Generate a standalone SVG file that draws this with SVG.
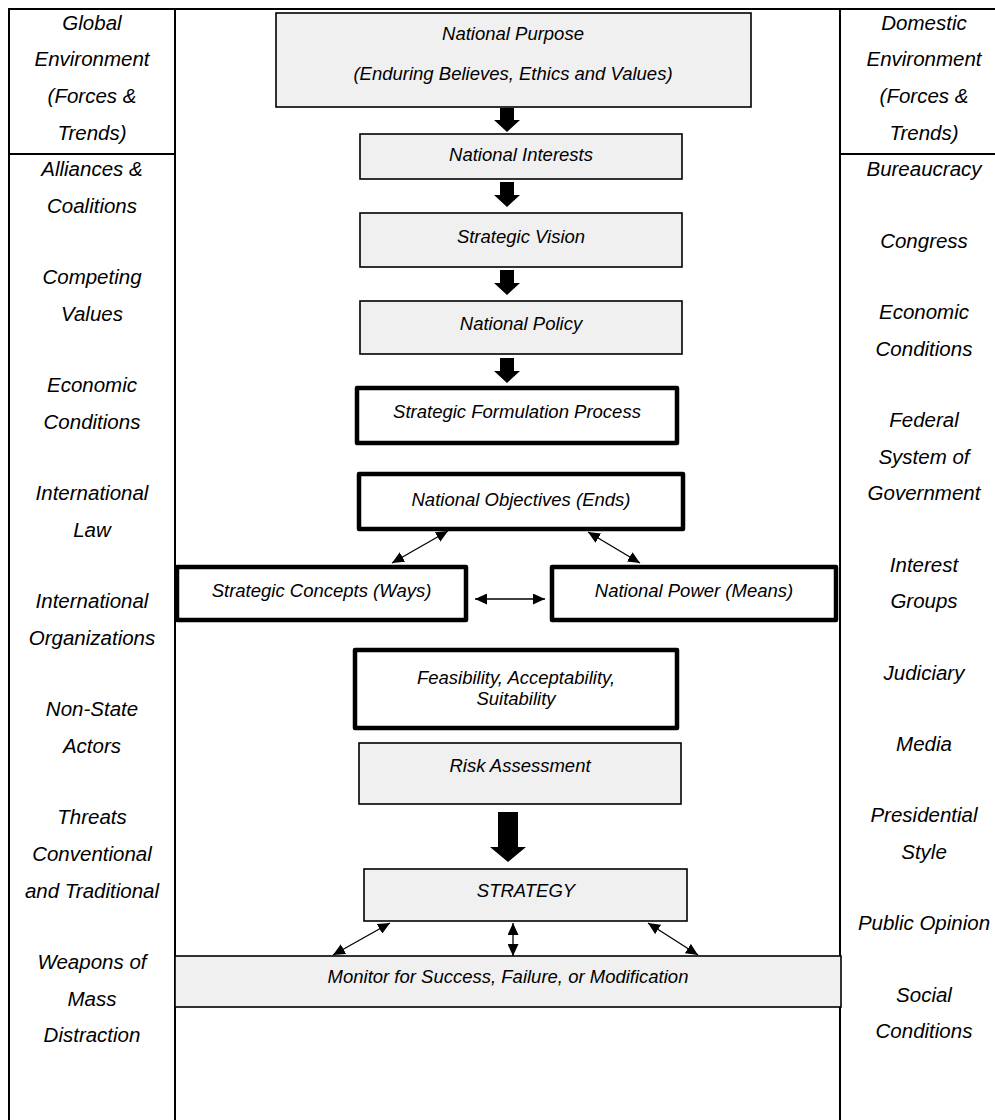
<svg xmlns="http://www.w3.org/2000/svg" width="995" height="1120" viewBox="0 0 995 1120">
<style>
.frame{stroke:#000;stroke-width:2;fill:none}
.gbox{fill:#f0f0f0;stroke:#000;stroke-width:1.6}
.tbox{fill:#fff;stroke:#000;stroke-width:4.5;stroke-linejoin:round}
.t{font-family:"Liberation Sans",Arial,sans-serif;font-style:italic;font-size:18.5px;fill:#000;text-anchor:middle}
.c{font-family:"Liberation Sans",Arial,sans-serif;font-style:italic;font-size:20.5px;fill:#000;text-anchor:middle}
.thin{stroke:#000;stroke-width:1.3;fill:none;marker-start:url(#ah);marker-end:url(#ah)}
.block{fill:#000}
</style>
<defs>
<marker id="ah" viewBox="0 0 12 11" refX="12" refY="5.5" markerWidth="12" markerHeight="11" markerUnits="userSpaceOnUse" orient="auto-start-reverse">
<path d="M0,0 L12,5.5 L0,11 z" fill="#000"/>
</marker>
</defs>
<rect width="995" height="1120" fill="#fff"/>
<g id="frame">
<path class="frame" d="M9,1120 V9 H995 M175,9 V1120 M840,9 V1120 M9,154 H175 M840,154 H995"/>
</g>
<g id="left-column">
<text class="c" x="92" y="29.5">Global</text>
<text class="c" x="92" y="66.2">Environment</text>
<text class="c" x="92" y="102.9">(Forces &amp;</text>
<text class="c" x="92" y="139.6">Trends)</text>
<text class="c" x="92" y="176.3">Alliances &amp;</text>
<text class="c" x="92" y="213">Coalitions</text>
<text class="c" x="92" y="284.3">Competing</text>
<text class="c" x="92" y="321">Values</text>
<text class="c" x="92" y="392.3">Economic</text>
<text class="c" x="92" y="429">Conditions</text>
<text class="c" x="92" y="500.3">International</text>
<text class="c" x="92" y="537">Law</text>
<text class="c" x="92" y="608.3">International</text>
<text class="c" x="92" y="645">Organizations</text>
<text class="c" x="92" y="716.3">Non-State</text>
<text class="c" x="92" y="753">Actors</text>
<text class="c" x="92" y="824.3">Threats</text>
<text class="c" x="92" y="861">Conventional</text>
<text class="c" x="92" y="897.7">and Traditional</text>
<text class="c" x="92" y="969">Weapons of</text>
<text class="c" x="92" y="1005.7">Mass</text>
<text class="c" x="92" y="1042.4">Distraction</text>
</g>
<g id="right-column">
<text class="c" x="924" y="29.5">Domestic</text>
<text class="c" x="924" y="66.2">Environment</text>
<text class="c" x="924" y="102.9">(Forces &amp;</text>
<text class="c" x="924" y="139.6">Trends)</text>
<text class="c" x="924" y="176.3">Bureaucracy</text>
<text class="c" x="924" y="247.6">Congress</text>
<text class="c" x="924" y="318.9">Economic</text>
<text class="c" x="924" y="355.6">Conditions</text>
<text class="c" x="924" y="426.9">Federal</text>
<text class="c" x="924" y="463.6">System of</text>
<text class="c" x="924" y="500.3">Government</text>
<text class="c" x="924" y="571.6">Interest</text>
<text class="c" x="924" y="608.3">Groups</text>
<text class="c" x="924" y="679.6">Judiciary</text>
<text class="c" x="924" y="750.9">Media</text>
<text class="c" x="924" y="822.2">Presidential</text>
<text class="c" x="924" y="858.9">Style</text>
<text class="c" x="924" y="930.2">Public Opinion</text>
<text class="c" x="924" y="1001.5">Social</text>
<text class="c" x="924" y="1038.2">Conditions</text>
</g>
<g id="national-purpose">
<rect class="gbox" x="276" y="13" width="475" height="94"/>
<text class="t" x="513" y="39.6">National Purpose</text>
<text class="t" x="513" y="79.6">(Enduring Believes, Ethics and Values)</text>
</g>
<g id="national-interests">
<rect class="gbox" x="360" y="134" width="322" height="45"/>
<text class="t" x="521" y="161">National Interests</text>
</g>
<g id="strategic-vision">
<rect class="gbox" x="360" y="213" width="322" height="54"/>
<text class="t" x="521" y="243">Strategic Vision</text>
</g>
<g id="national-policy">
<rect class="gbox" x="360" y="301" width="322" height="53"/>
<text class="t" x="521" y="330">National Policy</text>
</g>
<g id="strategic-formulation">
<rect class="tbox" x="357" y="388" width="320" height="55"/>
<text class="t" x="517" y="418">Strategic Formulation Process</text>
</g>
<g id="national-objectives">
<rect class="tbox" x="359" y="474" width="324" height="55"/>
<text class="t" x="521" y="506">National Objectives (Ends)</text>
</g>
<g id="strategic-concepts">
<rect class="tbox" x="177" y="567" width="289" height="53"/>
<text class="t" x="321.5" y="597">Strategic Concepts (Ways)</text>
</g>
<g id="national-power">
<rect class="tbox" x="552" y="567" width="284" height="53"/>
<text class="t" x="694" y="597">National Power (Means)</text>
</g>
<g id="feasibility">
<rect class="tbox" x="355" y="650" width="322" height="78"/>
<text class="t" x="516" y="684">Feasibility, Acceptability,</text>
<text class="t" x="516" y="705">Suitability</text>
</g>
<g id="risk-assessment">
<rect class="gbox" x="359" y="743" width="322" height="61"/>
<text class="t" x="520" y="772">Risk Assessment</text>
</g>
<g id="strategy">
<rect class="gbox" x="364" y="869" width="323" height="52"/>
<text class="t" x="526" y="897">STRATEGY</text>
</g>
<g id="monitor">
<rect class="gbox" x="175" y="956" width="666" height="51"/>
<text class="t" x="508" y="983">Monitor for Success, Failure, or Modification</text>
</g>
<g id="connectors">
<polygon class="block" points="500,108 514,108 514,120 520,120 507,132 494,120 500,120"/>
<polygon class="block" points="500,182 514,182 514,195 520,195 507,207 494,195 500,195"/>
<polygon class="block" points="500,270 514,270 514,283 520,283 507,295 494,283 500,283"/>
<polygon class="block" points="500,358 514,358 514,371 520,371 507,383 494,371 500,371"/>
<polygon class="block" points="498,812 518,812 518,847 526,847 508,862 490,847 498,847"/>
<line class="thin" x1="448" y1="531" x2="392" y2="563"/>
<line class="thin" x1="588" y1="532" x2="640" y2="563"/>
<line class="thin" x1="475" y1="599" x2="545" y2="599"/>
<line class="thin" x1="390" y1="923" x2="333" y2="955"/>
<line class="thin" x1="513" y1="923" x2="513" y2="956"/>
<line class="thin" x1="648" y1="923" x2="698" y2="955"/>
</g>
</svg>
